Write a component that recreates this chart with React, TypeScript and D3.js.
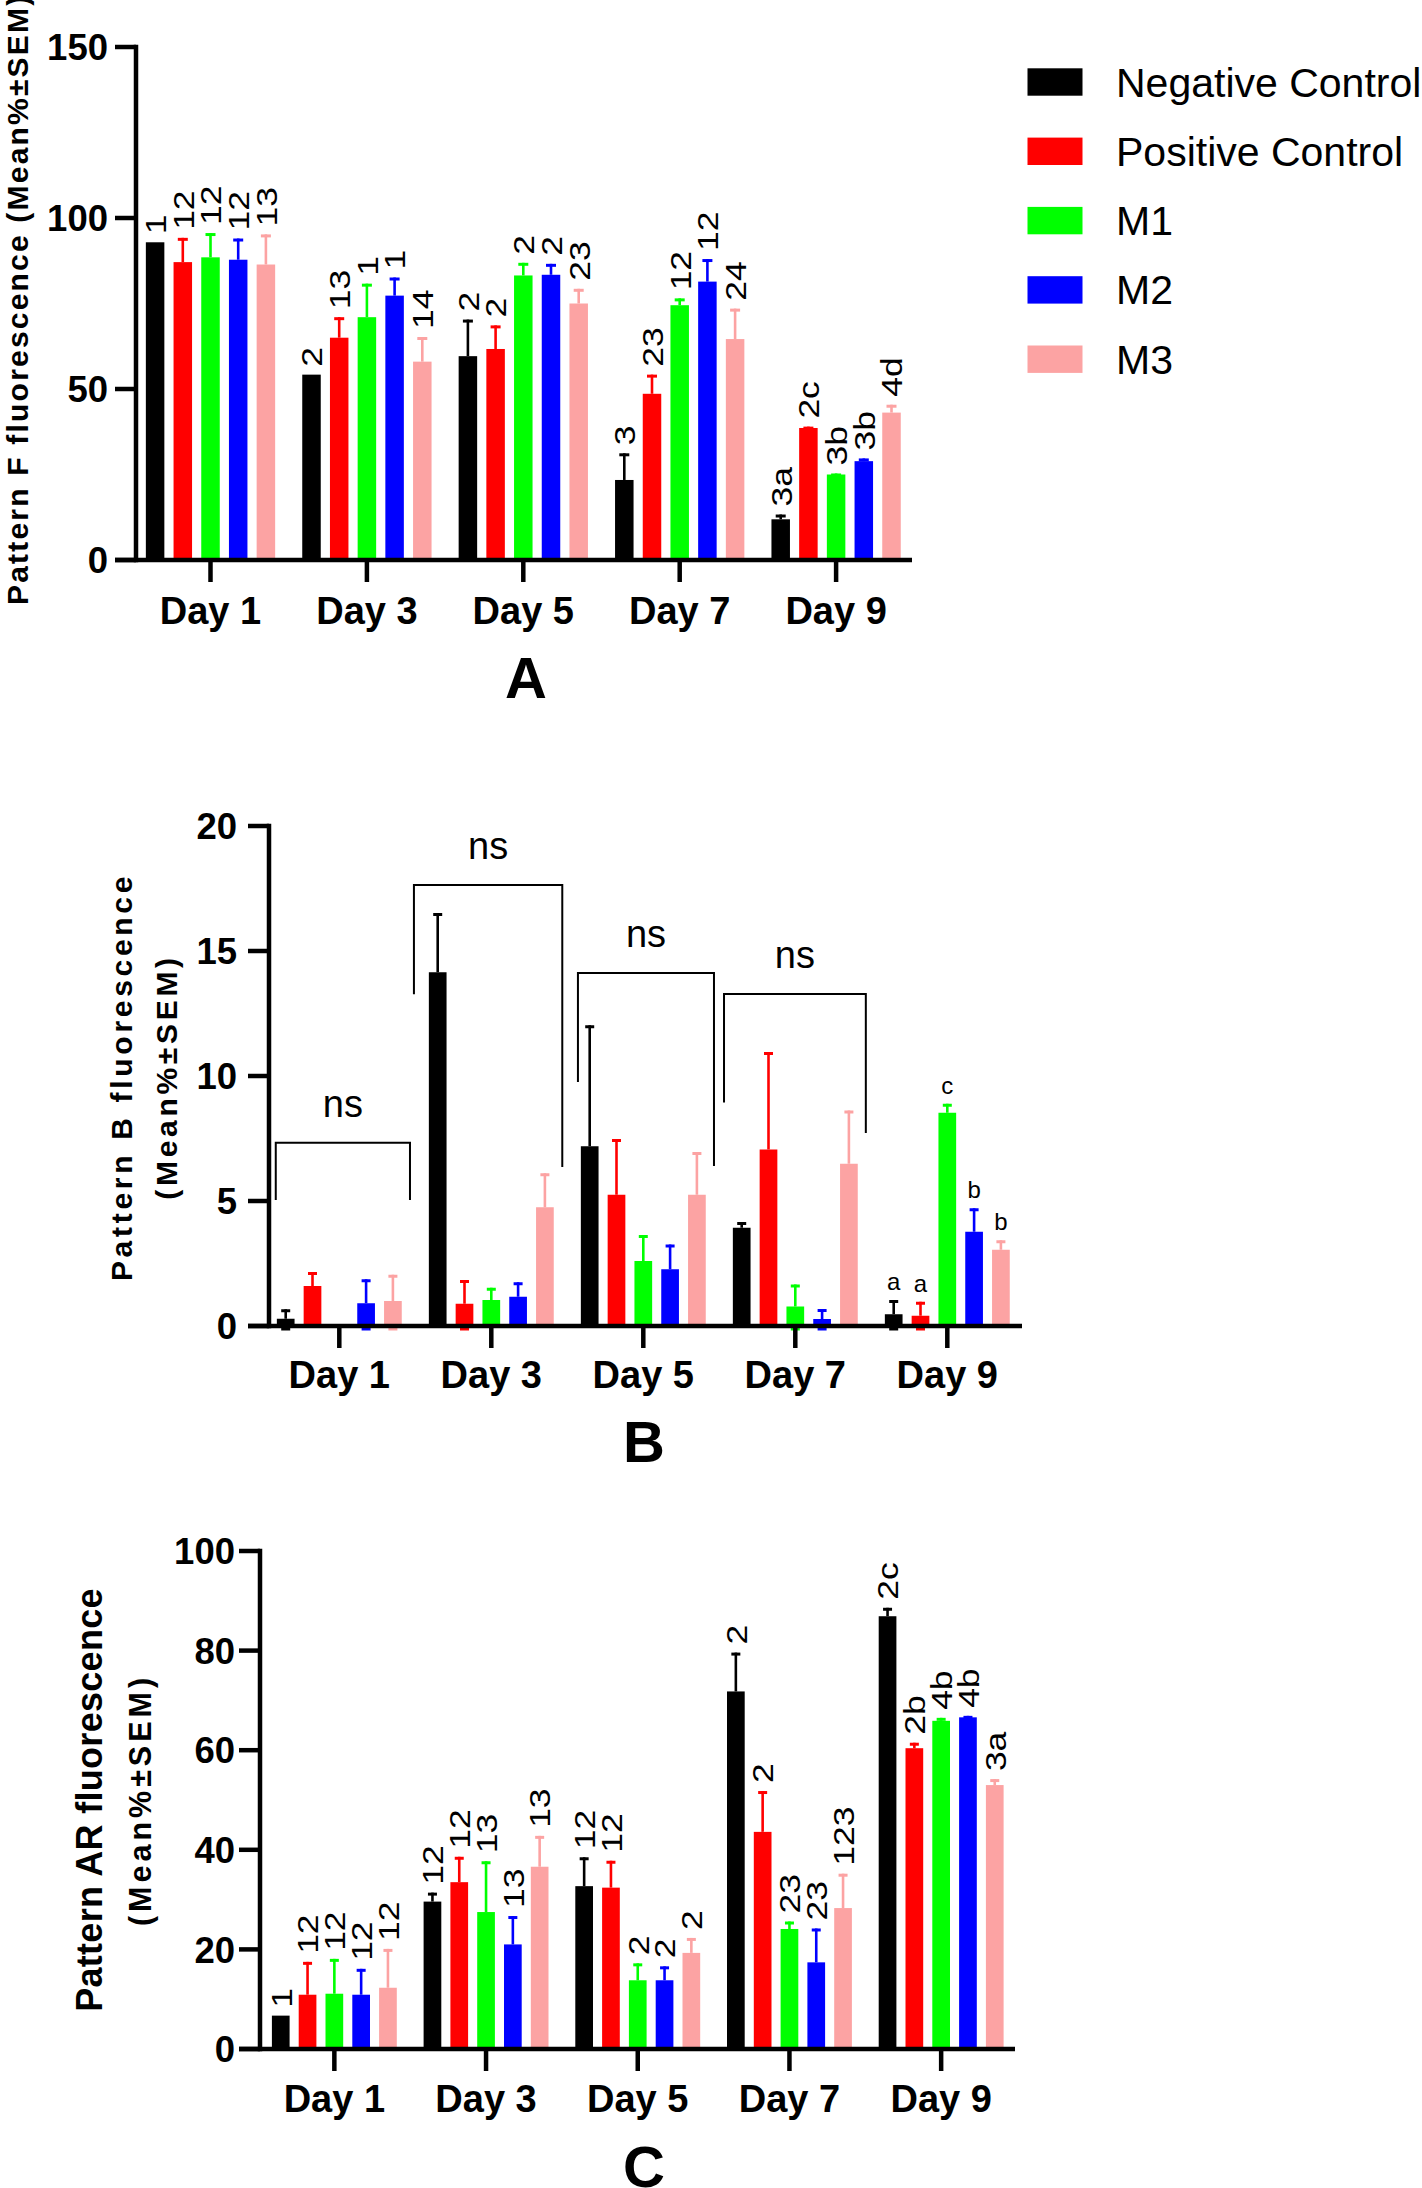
import React, { useEffect } from "react";
import * as d3 from "d3";

// ---------- data ----------
const DAYS = ["Day 1", "Day 3", "Day 5", "Day 7", "Day 9"];
const SERIES = ["Negative Control", "Positive Control", "M1", "M2", "M3"];
const COLORS = ["#000000", "#FF0000", "#00FF00", "#0000FF", "#FCA3A3"];

// Panel A: Pattern F fluorescence
const A_TICKS = [0, 50, 100, 150];
const A_NEG = [92.9, 54.2, 59.6, 23.4, 11.9];
const A_POS = [87.1, 65.0, 61.7, 48.6, 38.6];
const A_M1 = [88.5, 71.0, 83.2, 74.5, 25.0];
const A_M2 = [87.8, 77.3, 83.4, 81.4, 28.9];
const A_M3 = [86.4, 58.0, 75.0, 64.6, 43.1];
const A_NEG_SEM = [0, 0, 10.7, 7.8, 1.4];
const A_POS_SEM = [7.1, 6.0, 6.9, 5.6, 0.4];
const A_M1_SEM = [7.1, 9.8, 3.7, 2.0, 0.3];
const A_M2_SEM = [6.2, 5.3, 3.2, 6.6, 0.8];
const A_M3_SEM = [8.8, 7.2, 4.3, 8.9, 2.3];
const A_NEG_LBL = ["1", "2", "2", "3", "3a"];
const A_POS_LBL = ["12", "13", "2", "23", "2c"];
const A_M1_LBL = ["12", "1", "2", "12", "3b"];
const A_M2_LBL = ["12", "1", "2", "12", "3b"];
const A_M3_LBL = ["13", "14", "23", "24", "4d"];

// Panel B: Pattern B fluorescence
const B_TICKS = [0, 5, 10, 15, 20];
const B_NEG = [0.29, 14.15, 7.19, 3.93, 0.47];
const B_POS = [1.6, 0.89, 5.25, 7.06, 0.41];
const B_M1 = [0, 1.04, 2.6, 0.78, 8.53];
const B_M2 = [0.91, 1.17, 2.27, 0.28, 3.77];
const B_M3 = [1.0, 4.75, 5.25, 6.49, 3.05];
const B_NEG_SEM = [0.38, 2.37, 4.84, 0.23, 0.57];
const B_POS_SEM = [0.56, 0.95, 2.23, 3.9, 0.56];
const B_M1_SEM = [0, 0.49, 1.04, 0.88, 0.36];
const B_M2_SEM = [0.96, 0.58, 0.99, 0.4, 0.94];
const B_M3_SEM = [1.05, 1.36, 1.71, 2.13, 0.38];
const B_NEG_LBL = ["", "", "", "", "a"];
const B_POS_LBL = ["", "", "", "", "a"];
const B_M1_LBL = ["", "", "", "", "c"];
const B_M2_LBL = ["", "", "", "", "b"];
const B_M3_LBL = ["", "", "", "", "b"];
// "ns" brackets: [start index, end index, top value, left end value, right end value]
const B_BRACKETS = [
  [-0.418, 0.465, 7.33, 5.04, 5.04],
  [0.491, 1.467, 17.64, 13.27, 6.36],
  [1.57, 2.465, 14.12, 9.76, 6.4],
  [2.531, 3.464, 13.28, 8.94, 7.72],
];

// Panel C: Pattern AR fluorescence
const C_TICKS = [0, 20, 40, 60, 80, 100];
const C_NEG = [6.7, 29.6, 32.7, 71.8, 86.9];
const C_POS = [10.9, 33.5, 32.4, 43.6, 60.4];
const C_M1 = [11.1, 27.5, 13.8, 24.1, 65.9];
const C_M2 = [10.9, 21.0, 13.8, 17.4, 66.6];
const C_M3 = [12.3, 36.6, 19.3, 28.3, 53.0];
const C_NEG_SEM = [0, 1.8, 5.8, 7.8, 1.7];
const C_POS_SEM = [6.6, 5.1, 5.4, 8.2, 1.1];
const C_M1_SEM = [7.0, 10.2, 3.4, 1.5, 0.6];
const C_M2_SEM = [5.2, 5.7, 2.8, 6.8, 0.3];
const C_M3_SEM = [7.8, 6.2, 3.0, 6.9, 1.2];
const C_NEG_LBL = ["1", "12", "12", "2", "2c"];
const C_POS_LBL = ["12", "12", "12", "2", "2b"];
const C_M1_LBL = ["12", "13", "2", "23", "4b"];
const C_M2_LBL = ["12", "13", "2", "23", "4b"];
const C_M3_LBL = ["12", "13", "2", "123", "3a"];

const FONT = "'Liberation Sans', Arial, Helvetica, sans-serif";

type Cfg = {
  axisX: number;
  y0: number;
  yTop: number;
  yMax: number;
  ticks: number[];
  xLeft: number;
  xRight: number;
  axisEnd: number;
  pitch: number;
  barW: number;
  tickLabelX: number;
  dayBaseline: number;
  letter: string;
  letterX: number;
  letterY: number;
  rotated: boolean;
  capW: number;
};

function Panel({
  cfg,
  means,
  sems,
  labels,
  brackets,
}: {
  cfg: Cfg;
  means: number[][];
  sems: number[][];
  labels: string[][];
  brackets?: number[][];
}) {
  const y = d3.scaleLinear().domain([0, cfg.yMax]).range([cfg.y0, cfg.yTop]);
  const x = d3.scaleBand<string>().domain(DAYS).range([cfg.xLeft, cfg.xRight]);
  const s = d3
    .scalePoint<string>()
    .domain(SERIES)
    .range([-2 * cfg.pitch, 2 * cfg.pitch]);
  const center = (d: string) => (x(d) as number) + x.bandwidth() / 2;
  const idxX = (i: number) => cfg.xLeft + x.step() * (i + 0.5);
  const tickLen = 21;
  const sw = 4.5;

  return (
    <g>
      {/* bars */}
      {SERIES.map((ser, si) =>
        DAYS.map((day, di) => {
          const m = means[si][di];
          if (m <= 0) return null;
          const cx = center(day) + (s(ser) as number);
          return (
            <rect
              key={`b${si}-${di}`}
              x={cx - cfg.barW / 2}
              y={y(m)}
              width={cfg.barW}
              height={y(0) - y(m)}
              fill={COLORS[si]}
            />
          );
        })
      )}
      {/* error bars */}
      {SERIES.map((ser, si) =>
        DAYS.map((day, di) => {
          const m = means[si][di];
          const e = sems[si][di];
          if (e <= 0) return null;
          const cx = center(day) + (s(ser) as number);
          const top = y(m + e);
          return (
            <g key={`e${si}-${di}`} stroke={COLORS[si]}>
              <line x1={cx} x2={cx} y1={y(m)} y2={top} strokeWidth={2.6} />
              <line
                x1={cx - cfg.capW / 2}
                x2={cx + cfg.capW / 2}
                y1={top + 1.5}
                y2={top + 1.5}
                strokeWidth={3}
              />
              {m - e < 0 ? (
                <line
                  x1={cx - cfg.capW / 2}
                  x2={cx + cfg.capW / 2}
                  y1={y(0) + 3}
                  y2={y(0) + 3}
                  strokeWidth={3}
                />
              ) : null}
            </g>
          );
        })
      )}
      {/* value labels */}
      {SERIES.map((ser, si) =>
        DAYS.map((day, di) => {
          const lbl = labels[si][di];
          if (!lbl) return null;
          const cx = center(day) + (s(ser) as number);
          const top = y(means[si][di] + sems[si][di]);
          if (cfg.rotated) {
            return (
              <text
                key={`l${si}-${di}`}
                transform={`translate(${cx},${top - 8}) rotate(-90) scale(1.18,1)`}
                dy="0.36em"
                textAnchor="start"
                fontSize={30}
                fontFamily={FONT}
                fill="#000"
              >
                {lbl}
              </text>
            );
          }
          return (
            <text
              key={`l${si}-${di}`}
              x={cx}
              y={top - 10}
              textAnchor="middle"
              fontSize={24}
              fontFamily={FONT}
              fill="#000"
            >
              {lbl}
            </text>
          );
        })
      )}
      {/* brackets */}
      {brackets
        ? brackets.map((b, i) => {
            const x1 = idxX(b[0]);
            const x2 = idxX(b[1]);
            const yt = y(b[2]);
            return (
              <g key={`br${i}`}>
                <path
                  d={`M${x1},${y(b[3])}V${yt}H${x2}V${y(b[4])}`}
                  fill="none"
                  stroke="#000"
                  strokeWidth={2}
                />
                <text
                  x={(x1 + x2) / 2}
                  y={yt - 26}
                  textAnchor="middle"
                  fontSize={38}
                  fontFamily={FONT}
                  fill="#000"
                >
                  ns
                </text>
              </g>
            );
          })
        : null}
      {/* axes */}
      <line
        x1={cfg.axisX}
        x2={cfg.axisX}
        y1={y(cfg.yMax)}
        y2={cfg.y0}
        stroke="#000"
        strokeWidth={sw}
        strokeLinecap="square"
      />
      <line
        x1={cfg.axisX - tickLen}
        x2={cfg.axisEnd}
        y1={cfg.y0}
        y2={cfg.y0}
        stroke="#000"
        strokeWidth={sw}
      />
      {cfg.ticks.map((t) => (
        <g key={`yt${t}`}>
          <line
            x1={cfg.axisX - tickLen}
            x2={cfg.axisX}
            y1={y(t)}
            y2={y(t)}
            stroke="#000"
            strokeWidth={sw}
          />
          <text
            x={cfg.tickLabelX}
            y={y(t)}
            dy="0.36em"
            textAnchor="end"
            fontSize={36.5}
            fontWeight="bold"
            fontFamily={FONT}
            fill="#000"
          >
            {t}
          </text>
        </g>
      ))}
      {DAYS.map((d) => (
        <g key={`xt${d}`}>
          <line
            x1={center(d)}
            x2={center(d)}
            y1={cfg.y0}
            y2={cfg.y0 + 22}
            stroke="#000"
            strokeWidth={sw}
          />
          <text
            x={center(d)}
            y={cfg.dayBaseline}
            textAnchor="middle"
            fontSize={38}
            fontWeight="bold"
            fontFamily={FONT}
            fill="#000"
          >
            {d}
          </text>
        </g>
      ))}
      <text
        x={cfg.letterX}
        y={cfg.letterY}
        textAnchor="middle"
        fontSize={58}
        fontWeight="bold"
        fontFamily={FONT}
        fill="#000"
      >
        {cfg.letter}
      </text>
    </g>
  );
}

const CFG_A: Cfg = {
  axisX: 136, y0: 560, yTop: 47, yMax: 150, ticks: A_TICKS,
  xLeft: 132.3, xRight: 914.3, axisEnd: 912, pitch: 27.7, barW: 18.5,
  tickLabelX: 108, dayBaseline: 624, letter: "A", letterX: 526, letterY: 698,
  rotated: true, capW: 10,
};
const CFG_B: Cfg = {
  axisX: 269, y0: 1326, yTop: 826, yMax: 20, ticks: B_TICKS,
  xLeft: 263.3, xRight: 1023.3, axisEnd: 1022, pitch: 26.8, barW: 17.7,
  tickLabelX: 237, dayBaseline: 1388, letter: "B", letterX: 644, letterY: 1461.5,
  rotated: false, capW: 9,
};
const CFG_C: Cfg = {
  axisX: 260, y0: 2049, yTop: 1551, yMax: 100, ticks: C_TICKS,
  xLeft: 258.5, xRight: 1017, axisEnd: 1015, pitch: 26.8, barW: 17.7,
  tickLabelX: 235, dayBaseline: 2111.5, letter: "C", letterX: 644, letterY: 2187,
  rotated: true, capW: 9,
};

export default function App() {
  useEffect(() => {
    document.body.style.margin = "0";
  }, []);
  return (
    <svg
      width={1422}
      height={2188}
      viewBox="0 0 1422 2188"
      style={{ position: "absolute", left: 0, top: 0, background: "#fff" }}
    >
      <rect width={1422} height={2188} fill="#fff" />
      {/* Panel A */}
      <Panel
        cfg={CFG_A}
        means={[A_NEG, A_POS, A_M1, A_M2, A_M3]}
        sems={[A_NEG_SEM, A_POS_SEM, A_M1_SEM, A_M2_SEM, A_M3_SEM]}
        labels={[A_NEG_LBL, A_POS_LBL, A_M1_LBL, A_M2_LBL, A_M3_LBL]}
      />
      <text
        transform="translate(28,605) rotate(-90)"
        textAnchor="start"
        fontSize={30}
        fontWeight="bold"
        letterSpacing={2.2}
        fontFamily={FONT}
        fill="#000"
      >
        Pattern F fluorescence (Mean%±SEM)
      </text>
      {/* Legend */}
      {SERIES.map((ser, i) => (
        <g key={`lg${i}`}>
          <rect x={1027.5} y={82 + 69.3 * i - 13.7} width={55} height={27.4} fill={COLORS[i]} />
          <text
            x={1116}
            y={82 + 69.3 * i + 14.5}
            fontSize={41}
            fontFamily={FONT}
            fill="#000"
          >
            {ser}
          </text>
        </g>
      ))}
      {/* Panel B */}
      <Panel
        cfg={CFG_B}
        means={[B_NEG, B_POS, B_M1, B_M2, B_M3]}
        sems={[B_NEG_SEM, B_POS_SEM, B_M1_SEM, B_M2_SEM, B_M3_SEM]}
        labels={[B_NEG_LBL, B_POS_LBL, B_M1_LBL, B_M2_LBL, B_M3_LBL]}
        brackets={B_BRACKETS}
      />
      <text
        transform="translate(131.7,1077) rotate(-90)"
        textAnchor="middle"
        fontSize={30}
        fontWeight="bold"
        letterSpacing={3.7}
        fontFamily={FONT}
        fill="#000"
      >
        Pattern B fluorescence
      </text>
      <text
        transform="translate(177.3,1077) rotate(-90)"
        textAnchor="middle"
        fontSize={30}
        fontWeight="bold"
        letterSpacing={3.7}
        fontFamily={FONT}
        fill="#000"
      >
        (Mean%±SEM)
      </text>
      {/* Panel C */}
      <Panel
        cfg={CFG_C}
        means={[C_NEG, C_POS, C_M1, C_M2, C_M3]}
        sems={[C_NEG_SEM, C_POS_SEM, C_M1_SEM, C_M2_SEM, C_M3_SEM]}
        labels={[C_NEG_LBL, C_POS_LBL, C_M1_LBL, C_M2_LBL, C_M3_LBL]}
      />
      <text
        transform="translate(101.7,1800) rotate(-90)"
        textAnchor="middle"
        fontSize={36}
        fontWeight="bold"
        letterSpacing={0.3}
        fontFamily={FONT}
        fill="#000"
      >
        Pattern AR fluorescence
      </text>
      <text
        transform="translate(150.7,1800) rotate(-90)"
        textAnchor="middle"
        fontSize={30.5}
        fontWeight="bold"
        letterSpacing={4}
        fontFamily={FONT}
        fill="#000"
      >
        (Mean%±SEM)
      </text>
    </svg>
  );
}
